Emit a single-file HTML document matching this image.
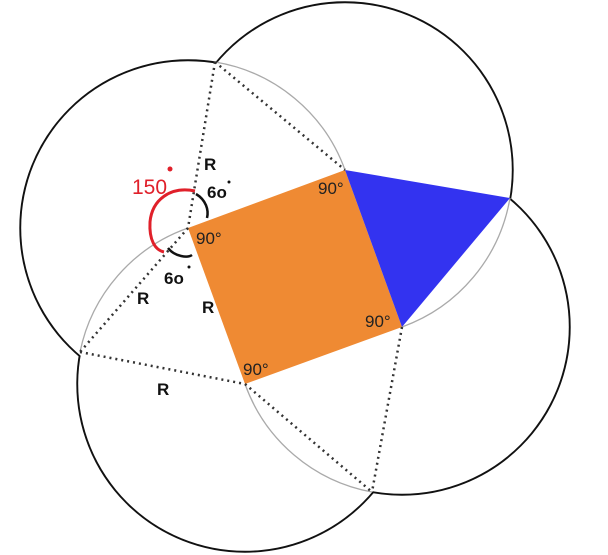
<!DOCTYPE html>
<html><head><style>
html,body{margin:0;padding:0;background:#fff;}
svg{display:block;}
text{font-family:"Liberation Sans",sans-serif;}
</style></head><body>
<svg width="608" height="555" viewBox="0 0 608 555">
<rect width="608" height="555" fill="#fff"/>
<g stroke="#111" stroke-width="3.4" fill="none">
<circle cx="188" cy="228" r="167"/>
<circle cx="345" cy="170" r="167"/>
<circle cx="402" cy="327" r="167"/>
<circle cx="245" cy="384" r="167"/>
</g>
<g fill="#fff" stroke="none">
<circle cx="188" cy="228" r="166.8"/>
<circle cx="345" cy="170" r="166.8"/>
<circle cx="402" cy="327" r="166.8"/>
<circle cx="245" cy="384" r="166.8"/>
</g>
<g stroke="#aaa" stroke-width="1.3" fill="none">
<path d="M215,62 A167,167 0 0 1 345,170"/>
<path d="M510,198 A167,167 0 0 1 402,327"/>
<path d="M372,492 A167,167 0 0 1 245,384"/>
<path d="M80,352 A167,167 0 0 1 188,228"/>
</g>
<polygon points="188,228 345,170 402,327 245,384" fill="#ef8a33"/>
<polygon points="345,170 510,198 402,327" fill="#3333f0"/>
<g stroke="#333" stroke-width="2.5" stroke-dasharray="2,4" fill="none">
<line x1="215" y1="62" x2="345" y2="170"/>
<line x1="215" y1="62" x2="188" y2="228"/>
<line x1="188" y1="228" x2="80" y2="352"/>
<line x1="80" y1="352" x2="245" y2="384"/>
<line x1="245" y1="384" x2="372" y2="492"/>
<line x1="402" y1="327" x2="372" y2="492"/>
</g>
<g font-weight="bold" font-size="17" fill="#111">
<text x="204" y="170">R</text>
<text x="137" y="304">R</text>
<text x="202" y="313">R</text>
<text x="157" y="395">R</text>
</g>
<g font-family="Liberation Serif,serif" font-size="17" fill="#222">
<text x="196" y="244">90°</text>
<text x="318" y="194">90°</text>
<text x="365" y="327">90°</text>
<text x="243" y="375">90°</text>
</g>
<path d="M195,191 C170,186 152,200 150,222 C149,240 155,250 164,252" stroke="#e0202a" stroke-width="3" fill="none"/>
<text x="132" y="194" font-size="21" fill="#e0202a">150</text>
<circle cx="170" cy="169" r="2.5" fill="#e0202a"/>
<path d="M196,194 C206,200 209,210 207,218" stroke="#111" stroke-width="2.5" fill="none"/>
<path d="M168,248 C175,257 188,258 192,255" stroke="#111" stroke-width="2.5" fill="none"/>
<text x="207" y="198" font-size="17" fill="#111" font-weight="bold">6o</text>
<circle cx="229" cy="182" r="1.5" fill="#111"/>
<text x="164" y="284" font-size="17" fill="#111" font-weight="bold">6o</text>
<circle cx="189" cy="267" r="1.5" fill="#111"/>
</svg>
</body></html>
